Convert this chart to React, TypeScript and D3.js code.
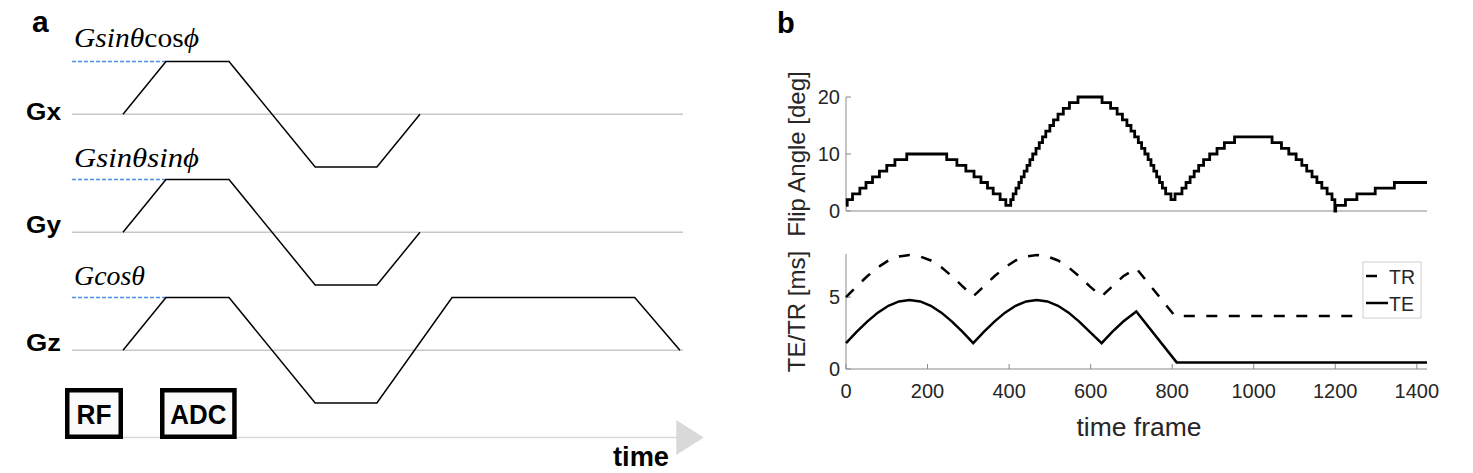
import React, { useEffect } from 'react';
import * as d3 from 'd3';

// ---------- Panel a data (gradient waveforms, arbitrary time units 0..100) ----------
const GRAD_NAMES = ['Gx', 'Gy', 'Gz'];
const GRAD_AMP_LABELS = ['Gsinθcosϕ', 'Gsinθsinϕ', 'Gcosθ'];
const GX_T = [8.35, 15.38, 25.7, 39.8, 49.9, 56.95];
const GX_A = [0, 1, 1, -1, -1, 0];
const GY_T = [8.35, 15.38, 25.7, 39.8, 49.9, 56.95];
const GY_A = [0, 1, 1, -1, -1, 0];
const GZ_T = [8.35, 15.38, 25.7, 39.8, 49.9, 62.2, 92.1, 99.5];
const GZ_A = [0, 1, 1, -1, -1, 1, 1, 0];
const PLATEAU_T = 15.38;

// ---------- Panel b data ----------
const FA_FRAMES = [0, 3, 16, 34, 49, 65, 82, 100, 120, 149, 247, 272, 294, 314, 331, 347, 361, 378, 392,
  404, 410, 417, 424, 430, 437, 444, 451, 458, 466, 474, 482, 490, 500, 509, 520, 533, 548, 569,
  628, 649, 665, 678, 689, 699, 708, 717, 725, 733, 741, 748, 755, 762, 769, 776, 784, 797,
  807, 824, 834, 844, 854, 865, 877, 892, 910, 928, 953, 1045, 1068, 1086, 1104, 1118, 1130, 1143, 1155, 1167, 1180, 1192, 1199,
  1201, 1225, 1253, 1298, 1345, 1425];
const FA_VALUES = [1, 2, 3, 4, 5, 6, 7, 8, 9, 10, 9, 8, 7, 6, 5, 4, 3, 2, 1,
  2, 3, 4, 5, 6, 7, 8, 9, 10, 11, 12, 13, 14, 15, 16, 17, 18, 19, 20,
  19, 18, 17, 16, 15, 14, 13, 12, 11, 10, 9, 8, 7, 6, 5, 4, 3, 2,
  3, 4, 5, 6, 7, 8, 9, 10, 11, 12, 13, 12, 11, 10, 9, 8, 7, 6, 5, 4, 3, 2, 0,
  1, 2, 3, 4, 5, 5];

const TE_FRAMES = [0, 26, 52, 78, 104, 130, 156, 182, 208, 234, 260, 286, 312,
  338, 364, 390, 416, 442, 468, 494, 520, 546, 572, 598, 627,
  653, 680, 712, 811, 1425];
const TE_VALUES = [1.8, 2.58, 3.3, 3.92, 4.4, 4.7, 4.8, 4.7, 4.4, 3.92, 3.3, 2.58, 1.8,
  2.58, 3.3, 3.92, 4.4, 4.7, 4.8, 4.7, 4.4, 3.92, 3.3, 2.58, 1.8,
  2.58, 3.3, 4.0, 0.46, 0.46];
const TR_FRAMES = [0, 26, 52, 78, 104, 130, 156, 182, 208, 234, 260, 286, 312,
  338, 364, 390, 416, 442, 468, 494, 520, 546, 572, 598, 627,
  653, 680, 712, 807, 1425];
const TR_VALUES = [5.0, 5.75, 6.45, 7.07, 7.55, 7.83, 7.93, 7.83, 7.55, 7.07, 6.45, 5.75, 5.05,
  5.75, 6.45, 7.07, 7.55, 7.83, 7.93, 7.83, 7.55, 7.07, 6.45, 5.75, 5.05,
  5.75, 6.45, 7.0, 3.68, 3.68];

const X_TICKS = [0, 200, 400, 600, 800, 1000, 1200, 1400];
const FA_TICKS = [0, 10, 20];
const TETR_TICKS = [0, 5];
const LEGEND = ['TR', 'TE'];

const SANS = '"Liberation Sans", Arial, sans-serif';
const SERIF = '"Liberation Serif", "DejaVu Serif", serif';
const TXT = '#262626';
const AX = '#8a8a8a';

export default function App() {
  useEffect(() => {
    document.body.style.margin = '0';
  }, []);

  // ----- panel a scales -----
  const xa = d3.scaleLinear().domain([0, 100]).range([72, 683]);
  const baselines = [115, 233, 351];
  const chanScale = (b: number) => d3.scaleLinear().domain([-1, 1]).range([b + 52, b - 53.5]);
  const waves = [
    { t: GX_T, a: GX_A },
    { t: GY_T, a: GY_A },
    { t: GZ_T, a: GZ_A },
  ];
  const labelDy = [-67, -65, -65];
  const nameDy = [6, 0.5, 1];

  // ----- panel b scales -----
  const xb = d3.scaleLinear().domain([0, 1425]).range([846, 1427]);
  const yFA = d3.scaleLinear().domain([0, 20]).range([211, 97]);
  const yT = d3.scaleLinear().domain([0, 8]).range([369, 254]);

  const faLine = d3.line<number>()
    .x((_, i) => xb(FA_FRAMES[i]))
    .y((d) => yFA(d))
    .curve(d3.curveStepAfter);
  const teLine = d3.line<number>().x((_, i) => xb(TE_FRAMES[i])).y((d) => yT(d));
  const trLine = d3.line<number>().x((_, i) => xb(TR_FRAMES[i])).y((d) => yT(d));

  return (
    <svg width={1473} height={473} style={{ display: 'block', position: 'absolute', left: 0, top: 0 }}>
      <rect x={0} y={0} width={1473} height={473} fill="#fff" />

      {/* ================= Panel a ================= */}
      <text x={32} y={32} fontFamily={SANS} fontWeight="bold" fontSize={30} fill="#000">a</text>

      {waves.map((w, ci) => {
        const ys = chanScale(baselines[ci]);
        const line = d3.line<number>().x((_, i) => xa(w.t[i])).y((d) => ys(d));
        return (
          <g key={ci}>
            <line x1={xa(0)} x2={xa(100)} y1={ys(0)} y2={ys(0)} stroke="#c8c8c8" strokeWidth={1.3} />
            <line x1={xa(0)} x2={xa(PLATEAU_T)} y1={ys(1)} y2={ys(1)} stroke="#4a90e2" strokeWidth={1.5} strokeDasharray="4 2" />
            <path d={line(w.a) || ''} fill="none" stroke="#000" strokeWidth={1.5} strokeLinejoin="miter" />
            <text x={26} y={ys(0) + nameDy[ci]} fontFamily={SANS} fontWeight="bold" fontSize={23}
              textLength={35} lengthAdjust="spacingAndGlyphs" fill="#000">{GRAD_NAMES[ci]}</text>
            <text x={74} y={ys(0) + labelDy[ci]} fontFamily={SERIF} fontStyle="italic" fontSize={27}
              textLength={ci === 2 ? 71 : 125} lengthAdjust="spacingAndGlyphs" fill="#000">
              {ci === 0 ? (<><tspan>Gsinθ</tspan><tspan fontStyle="normal">cos</tspan><tspan>ϕ</tspan></>) : GRAD_AMP_LABELS[ci]}
            </text>
          </g>
        );
      })}

      {/* time axis */}
      <line x1={xa(-1.15)} x2={xa(99)} y1={437.5} y2={437.5} stroke="#d9d9d9" strokeWidth={1.5} />
      <polygon points={`${xa(98.9)},420 ${xa(98.9)},455 ${xa(103.4)},437.5`} fill="#d9d9d9" />
      <text x={613} y={466} fontFamily={SANS} fontWeight="bold" fontSize={27} textLength={56}
        lengthAdjust="spacingAndGlyphs" fill="#000">time</text>

      {/* RF / ADC boxes */}
      <rect x={67.25} y={390.25} width={53.5} height={46.5} fill="#fafafa" stroke="#000" strokeWidth={4.5} />
      <text x={94} y={424} textAnchor="middle" fontFamily={SANS} fontWeight="bold" fontSize={27}
        textLength={35} lengthAdjust="spacingAndGlyphs" fill="#000">RF</text>
      <rect x={162.25} y={390.25} width={72.2} height={46.5} fill="#fafafa" stroke="#000" strokeWidth={4.5} />
      <text x={198.3} y={424} textAnchor="middle" fontFamily={SANS} fontWeight="bold" fontSize={27}
        textLength={56} lengthAdjust="spacingAndGlyphs" fill="#000">ADC</text>

      {/* ================= Panel b ================= */}
      <text x={777} y={33} fontFamily={SANS} fontWeight="bold" fontSize={29} fill="#000">b</text>

      {/* top axes */}
      <line x1={xb(0)} x2={xb(0)} y1={yFA(20)} y2={yFA(0)} stroke={AX} strokeWidth={1} />
      <line x1={xb(0)} x2={xb(1425)} y1={yFA(0)} y2={yFA(0)} stroke={AX} strokeWidth={1} />
      {FA_TICKS.map((t) => (
        <g key={t}>
          <line x1={xb(0)} x2={xb(0) + 5} y1={yFA(t)} y2={yFA(t)} stroke={AX} strokeWidth={1} />
          <text x={840} y={yFA(t) + 7} textAnchor="end" fontFamily={SANS} fontSize={20} fill={TXT}>{t}</text>
        </g>
      ))}
      <path d={faLine(FA_VALUES) || ''} fill="none" stroke="#000" strokeWidth={2.8} strokeLinejoin="miter" />
      <text transform={`translate(805,${(yFA(0) + yFA(20)) / 2}) rotate(-90)`} textAnchor="middle"
        fontFamily={SANS} fontSize={24} fill={TXT}>Flip Angle [deg]</text>

      {/* bottom axes */}
      <line x1={xb(0)} x2={xb(0)} y1={yT(8)} y2={yT(0)} stroke={AX} strokeWidth={1} />
      <line x1={xb(0)} x2={xb(1425)} y1={yT(0)} y2={yT(0)} stroke={AX} strokeWidth={1} />
      {TETR_TICKS.map((t) => (
        <g key={t}>
          <line x1={xb(0)} x2={xb(0) + 5} y1={yT(t)} y2={yT(t)} stroke={AX} strokeWidth={1} />
          <text x={840} y={yT(t) + 7} textAnchor="end" fontFamily={SANS} fontSize={20} fill={TXT}>{t}</text>
        </g>
      ))}
      {X_TICKS.map((t) => (
        <g key={t}>
          <line x1={xb(t)} x2={xb(t)} y1={yT(0)} y2={yT(0) - 5} stroke={AX} strokeWidth={1} />
          <text x={xb(t)} y={398} textAnchor="middle" fontFamily={SANS} fontSize={20} fill={TXT}>{t}</text>
        </g>
      ))}
      <path d={trLine(TR_VALUES) || ''} fill="none" stroke="#000" strokeWidth={2.5} strokeDasharray="11 11.5" />
      <path d={teLine(TE_VALUES) || ''} fill="none" stroke="#000" strokeWidth={2.5} />
      <text transform={`translate(805,${(yT(0) + yT(8)) / 2}) rotate(-90)`} textAnchor="middle"
        fontFamily={SANS} fontSize={24} fill={TXT}>TE/TR [ms]</text>
      <text x={1139} y={436} textAnchor="middle" fontFamily={SANS} fontSize={26.5} fill={TXT}>time frame</text>

      {/* legend */}
      <rect x={1363} y={262} width={58} height={56} fill="#fff" stroke="#d0d0d0" strokeWidth={1} />
      {LEGEND.map((name, i) => (
        <g key={name}>
          <line x1={1366} x2={name === 'TR' ? 1377 : 1388} y1={276 + i * 27} y2={276 + i * 27} stroke="#000" strokeWidth={2.5} />
          <text x={1389} y={284 + i * 27} fontFamily={SANS} fontSize={19.5} fill={TXT}>{name}</text>
        </g>
      ))}
    </svg>
  );
}
